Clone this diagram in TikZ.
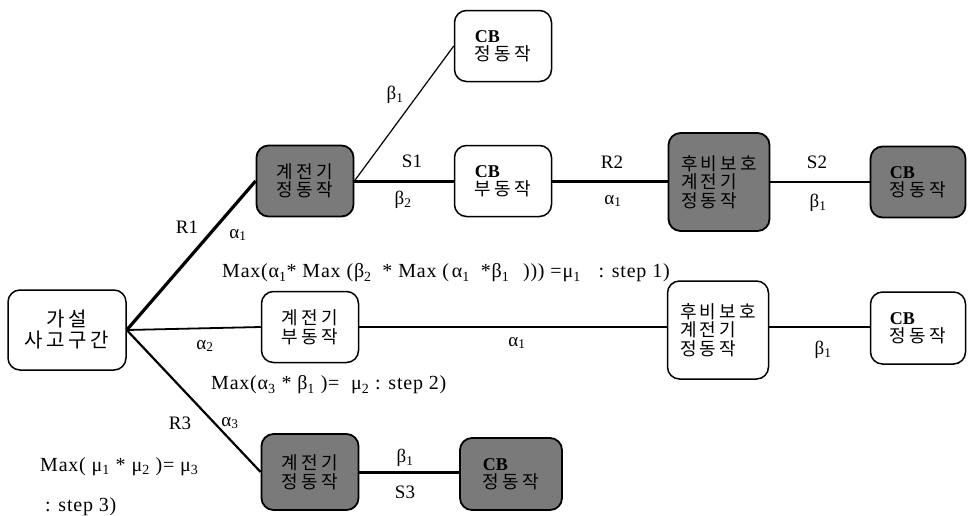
\documentclass[tikz,border=0pt]{standalone}
\usepackage{fontspec}
\setmainfont{Liberation Serif}
\newfontfamily\kr[LetterSpace=18]{Noto Sans CJK KR}
\newfontfamily\eqfont[LetterSpace=4]{Liberation Serif}
\usetikzlibrary{calc}
\begin{document}
\begin{tikzpicture}[x=1pt,y=-1pt,
  box/.style={draw, line width=1.5pt, rounded corners=12pt, minimum width=97pt, minimum height=71pt, align=left, inner sep=2pt, font=\fontsize{18}{18.5}\selectfont\kr},
  gbox/.style={box, line width=1.8pt, fill=black!52, text=black},
  lbl/.style={font=\fontsize{19}{19}\selectfont, inner sep=0pt},
  eq/.style={font=\fontsize{20}{20}\selectfont\eqfont, inner sep=0pt, anchor=west},
  thick3/.style={line width=3pt},
  thin2/.style={line width=1.8pt}]
\useasboundingbox (0,0) rectangle (968,515);
% nodes
\node[box, minimum width=118pt, minimum height=80pt, align=center, font=\fontsize{20}{21}\selectfont\kr] (root) at (67,330) {가설\\사고구간};
\node[gbox] (g1) at (305,181) {계전기\\정동작};
\node[box] (cb1) at (503,46) {{\rmfamily\bfseries CB}\\정동작};
\node[box] (cb2) at (503,181) {{\rmfamily\bfseries CB}\\부동작};
\node[gbox, minimum width=101pt, minimum height=98pt] (hb1) at (719,182) {후비보호\\계전기\\정동작};
\node[gbox, minimum width=95pt] (cbg) at (918,182) {{\rmfamily\bfseries CB}\\정동작};
\node[box] (m1) at (310,327) {계전기\\부동작};
\node[box, minimum width=101pt, minimum height=98pt] (hb2) at (718,330) {후비보호\\계전기\\정동작};
\node[box, minimum width=95pt, minimum height=72pt] (cb3) at (918,328) {{\rmfamily\bfseries CB}\\정동작};
\node[gbox, minimum height=76pt] (g3) at (310,472) {계전기\\정동작};
\node[gbox, minimum width=102pt, minimum height=72pt] (cb4) at (511,474) {{\rmfamily\bfseries CB}\\정동작};
\coordinate (J) at (g1.east);
\coordinate (M) at (root.east);
% connectors
\draw[line width=3.2pt] (M) -- (g1.west);
\draw[thin2] (M) -- (m1.west);
\draw[line width=2.2pt] (M) -- (g3.west);
\draw[thick3] (J) -- (cb2.west);
\draw[line width=1.2pt] (J) -- (cb1.west);
\draw[thick3] (cb2.east) -- (cb2.east -| hb1.west);
\draw[line width=2.6pt] (hb1.east) -- (cbg.west);
\draw[thin2] (m1.east) -- (m1.east -| hb2.west);
\draw[thin2] (m1.east -| hb2.east) -- (m1.east -| cb3.west);
\draw[thick3] (g3.east) -- (g3.east -| cb4.west);
% labels
\node[lbl] (lb1) at (395,95) {β\textsubscript{1}};
\node[lbl] (lr1) at (187,227) {R1};
\node[lbl] (la1) at (238,235) {α\textsubscript{1}};
\node[lbl] (ls1) at (412,161) {S1};
\node[lbl] (lb2) at (403,200) {β\textsubscript{2}};
\node[lbl] (lr2) at (612,162) {R2};
\node[lbl] (la1b) at (613,201) {α\textsubscript{1}};
\node[lbl] (ls2) at (817,162) {S2};
\node[lbl] (lb1b) at (818,203) {β\textsubscript{1}};
\node[lbl] (la2) at (205,346) {α\textsubscript{2}};
\node[lbl] (la1c) at (517,343) {α\textsubscript{1}};
\node[lbl] (lb1c) at (823,350) {β\textsubscript{1}};
\node[lbl] (lr3) at (180,423) {R3};
\node[lbl] (la3) at (230,423) {α\textsubscript{3}};
\node[lbl] (lb1d) at (405,458) {β\textsubscript{1}};
\node[lbl] (ls3) at (405,492) {S3};
\node[eq] (e1) at (222,273) {Max(α\textsubscript{1}* Max (β\textsubscript{2}\hspace{5pt} * Max (\hspace{3pt}α\textsubscript{1}\hspace{5pt} *β\textsubscript{1}\hspace{8pt} ))) =μ\textsubscript{1}\hspace{12pt} : step 1)};
\node[eq] (e2) at (211,385) {Max(α\textsubscript{3} * β\textsubscript{1} )= \ μ\textsubscript{2} : step 2)};
\node[eq] (e3) at (40,467) {Max( μ\textsubscript{1} * μ\textsubscript{2} )= μ\textsubscript{3}};
\node[eq] (e4) at (45,507) {: step 3)};
\end{tikzpicture}
\end{document}
